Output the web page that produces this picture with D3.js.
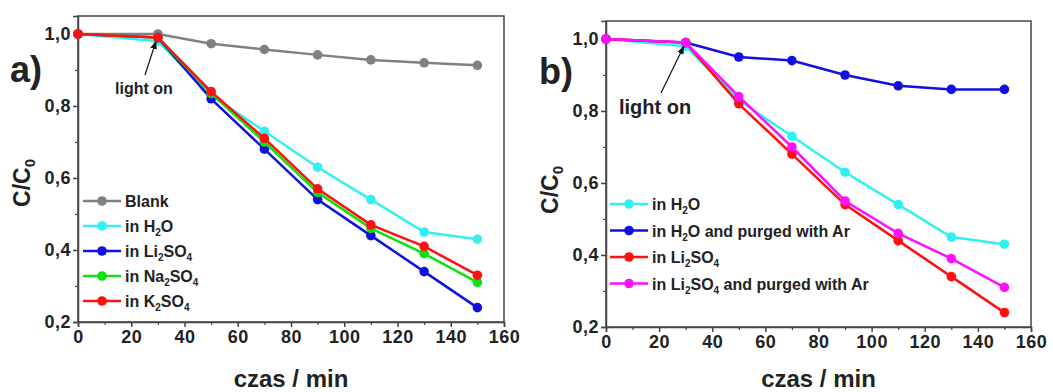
<!DOCTYPE html>
<html><head><meta charset="utf-8">
<script src="https://cdn.jsdelivr.net/npm/d3@7"></script>
<style>
body{margin:0;background:#fff;}
svg{display:block;}
text{font-family:"Liberation Sans",Arial,sans-serif;font-weight:bold;fill:#222;}
</style></head><body>
<svg id="chart" width="1053" height="392"></svg>
<script>
const times = [0, 30, 50, 70, 90, 110, 130, 150];
const xTicks = [0, 20, 40, 60, 80, 100, 120, 140, 160];
const yTicks = [0.2, 0.4, 0.6, 0.8, 1.0];
const yTickLabels = ["0,2", "0,4", "0,6", "0,8", "1,0"];

// Panel a
const aBlank  = [1.0, 1.0, 0.973, 0.957, 0.942, 0.928, 0.920, 0.913];
const aH2O    = [1.0, 0.98, 0.83, 0.73, 0.63, 0.54, 0.45, 0.43];
const aLi2SO4 = [1.0, 0.99, 0.82, 0.68, 0.54, 0.44, 0.34, 0.24];
const aNa2SO4 = [1.0, 0.99, 0.835, 0.70, 0.56, 0.46, 0.39, 0.31];
const aK2SO4  = [1.0, 0.99, 0.84, 0.71, 0.57, 0.47, 0.41, 0.33];

// Panel b
const bH2O     = [1.0, 0.98, 0.83, 0.73, 0.63, 0.54, 0.45, 0.43];
const bH2OAr   = [1.0, 0.99, 0.95, 0.94, 0.90, 0.87, 0.86, 0.86];
const bLi2SO4  = [1.0, 0.99, 0.82, 0.68, 0.54, 0.44, 0.34, 0.24];
const bLi2SO4Ar= [1.0, 0.99, 0.84, 0.70, 0.55, 0.46, 0.39, 0.31];

// legend labels as [text, subscript] pieces
const aLabels = [
  [["Blank",0]],
  [["in H",0],["2",1],["O",0]],
  [["in Li",0],["2",1],["SO",0],["4",1]],
  [["in Na",0],["2",1],["SO",0],["4",1]],
  [["in K",0],["2",1],["SO",0],["4",1]]
];
const bLabels = [
  [["in H",0],["2",1],["O",0]],
  [["in H",0],["2",1],["O and purged with Ar",0]],
  [["in Li",0],["2",1],["SO",0],["4",1]],
  [["in Li",0],["2",1],["SO",0],["4",1],[" and purged with Ar",0]]
];

const svg = d3.select("#chart");
const defs = svg.append("defs");
defs.append("marker").attr("id","arrow").attr("viewBox","0 0 10 10")
  .attr("refX",9).attr("refY",5).attr("markerWidth",7).attr("markerHeight",7)
  .attr("orient","auto-start-reverse")
  .append("path").attr("d","M0,1 L10,5 L0,9 z").attr("fill","#111");

function drawPanel(cfg){
  const g = svg.append("g");
  const x = d3.scaleLinear().domain([0,160]).range([cfg.left, cfg.right]);
  const y = d3.scaleLinear().domain([0.2,1.05]).range([cfg.bottom, cfg.top]);

  g.append("rect").attr("x",cfg.left).attr("y",cfg.top)
    .attr("width",cfg.right-cfg.left).attr("height",cfg.bottom-cfg.top)
    .attr("fill","none").attr("stroke","#444").attr("stroke-width",1.5);

  const xa = g.append("g").attr("transform",`translate(0,${cfg.bottom})`)
    .call(d3.axisBottom(x).tickValues(xTicks).tickSize(5).tickPadding(3).tickFormat(d3.format("d")));
  xa.select(".domain").attr("stroke","#444").attr("stroke-width",1.5);
  xa.selectAll(".tick line").attr("stroke","#444").attr("stroke-width",1.5);
  xa.selectAll("text").attr("font-size",18).attr("letter-spacing",0.5).attr("font-family","Liberation Sans, Arial").attr("font-weight","bold").attr("fill","#222");
  const xm = g.append("g").attr("transform",`translate(0,${cfg.bottom})`)
    .call(d3.axisBottom(x).tickValues(d3.range(10,160,20)).tickSize(3).tickFormat(""));
  xm.select(".domain").remove();
  xm.selectAll(".tick line").attr("stroke","#444").attr("stroke-width",1.2);

  const ya = g.append("g").attr("transform",`translate(${cfg.left},0)`)
    .call(d3.axisLeft(y).tickValues(yTicks).tickSize(5).tickPadding(2).tickFormat((d,i)=>yTickLabels[i]));
  ya.select(".domain").attr("stroke","#444").attr("stroke-width",1.5);
  ya.selectAll(".tick line").attr("stroke","#444").attr("stroke-width",1.5);
  ya.selectAll("text").attr("font-size",18).attr("letter-spacing",0.5).attr("font-family","Liberation Sans, Arial").attr("font-weight","bold").attr("fill","#222");
  const ym = g.append("g").attr("transform",`translate(${cfg.left},0)`)
    .call(d3.axisLeft(y).tickValues([0.3,0.5,0.7,0.9]).tickSize(3).tickFormat(""));
  ym.select(".domain").remove();
  ym.selectAll(".tick line").attr("stroke","#444").attr("stroke-width",1.2);

  const line = d3.line().x((d,i)=>x(times[i])).y(d=>y(d));
  cfg.series.forEach(s=>{
    g.append("path").datum(s.values).attr("d",line)
      .attr("fill","none").attr("stroke",s.color).attr("stroke-width",2.5);
    g.selectAll(null).data(s.values).enter().append("circle")
      .attr("cx",(d,i)=>x(times[i])).attr("cy",d=>y(d)).attr("r",4.8)
      .attr("fill",s.color);
  });

  cfg.series.forEach((s,i)=>{
    const ly = cfg.legY + i*cfg.legStep;
    g.append("line").attr("x1",cfg.legX).attr("x2",cfg.legX+38).attr("y1",ly).attr("y2",ly)
      .attr("stroke",s.color).attr("stroke-width",2.5);
    g.append("circle").attr("cx",cfg.legX+19).attr("cy",ly).attr("r",4.8).attr("fill",s.color);
    const t = g.append("text").attr("x",cfg.legX+42).attr("y",ly+6).attr("font-size",16);
    cfg.labels[i].forEach((p,j)=>{
      const prev = j>0 ? cfg.labels[i][j-1] : null;
      let dy = 0;
      if(p[1] && !(prev && prev[1])) dy = 4;
      if(!p[1] && prev && prev[1]) dy = -4;
      const ts = t.append("tspan").text(p[0]).attr("dy",dy);
      if(p[1]) ts.attr("font-size",10);
    });
  });

  g.append("text").attr("x",cfg.lightX).attr("y",cfg.lightY).attr("font-size",cfg.lightSize).text("light on");
  g.append("line").attr("x1",cfg.arrow[0]).attr("y1",cfg.arrow[1])
    .attr("x2",x(30)-2).attr("y2",y(0.99)+4)
    .attr("stroke","#111").attr("stroke-width",1.2).attr("marker-end","url(#arrow)");

  g.append("text").attr("x",cfg.letterX).attr("y",cfg.letterY).attr("font-size",36).text(cfg.letter);

  const yl = g.append("text").attr("transform",`translate(${cfg.yLabX},${cfg.yLabY}) rotate(-90)`)
    .attr("text-anchor","middle").attr("font-size",23);
  yl.append("tspan").text("C/C");
  yl.append("tspan").text("0").attr("font-size",15).attr("dy",5);

  g.append("text").attr("x",(cfg.left+cfg.right)/2).attr("y",387)
    .attr("text-anchor","middle").attr("font-size",24)
    .attr("font-family","Open Sans, sans-serif").attr("font-weight",600)
    .text("czas / min");
}

drawPanel({
  left:78, right:504, top:16, bottom:322,
  series:[
    {values:aBlank, color:"#808080"},
    {values:aH2O, color:"#33f0f0"},
    {values:aLi2SO4, color:"#1010e0"},
    {values:aNa2SO4, color:"#10e010"},
    {values:aK2SO4, color:"#ff1010"}
  ],
  labels:aLabels, legX:83, legY:201, legStep:25,
  lightX:115, lightY:94, lightSize:16, arrow:[145,75],
  letter:"a)", letterX:10, letterY:82,
  yLabX:30, yLabY:183
});

drawPanel({
  left:606, right:1031, top:21, bottom:327,
  series:[
    {values:bH2O, color:"#33f0f0"},
    {values:bH2OAr, color:"#1010e0"},
    {values:bLi2SO4, color:"#ff1010"},
    {values:bLi2SO4Ar, color:"#ff10ff"}
  ],
  labels:bLabels, legX:610, legY:204, legStep:26.5,
  lightX:619, lightY:114, lightSize:20, arrow:[661,93],
  letter:"b)", letterX:539, letterY:84,
  yLabX:558, yLabY:190
});
</script>
</body></html>
